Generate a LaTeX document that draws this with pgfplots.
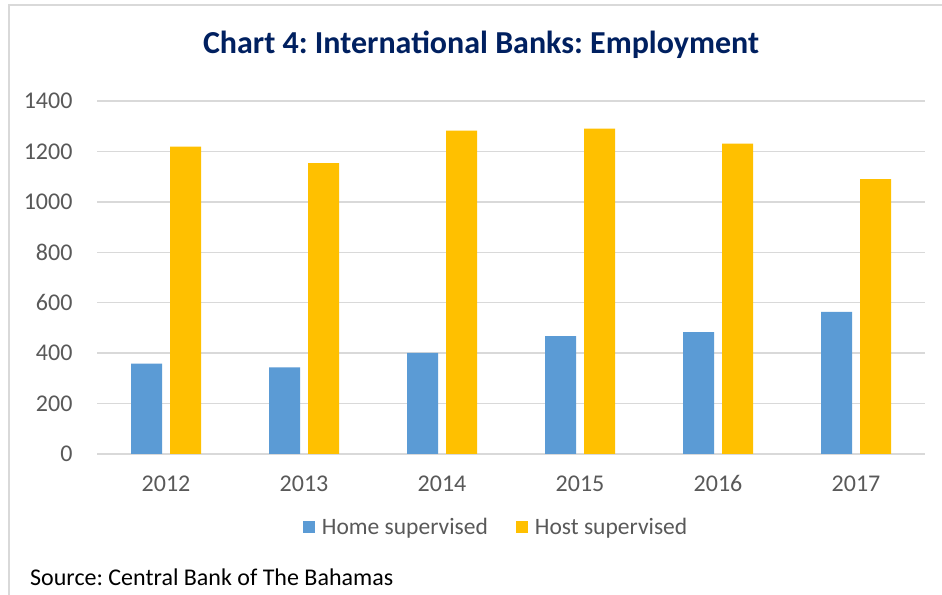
\documentclass[border=0pt]{standalone}
\usepackage{pgfplots}
\pgfplotsset{compat=1.18}
\usepackage{fontspec}
\setmainfont{Carlito}
\frenchspacing

\definecolor{HomeBlue}{RGB}{91,155,213}
\definecolor{HostGold}{RGB}{255,192,0}
\definecolor{GridGray}{RGB}{217,217,217}
\definecolor{LabelGray}{RGB}{89,89,89}
\definecolor{TitleNavy}{RGB}{0,32,96}

\begin{document}
\begin{tikzpicture}
\useasboundingbox (0,0) rectangle (942bp,595bp);
\fill[white] (0,0) rectangle (942bp,595bp);
\draw[GridGray, line width=1.2bp] (9bp,0) -- (9bp,590bp) -- (942bp,590bp);

\begin{axis}[
    at={(97bp,141bp)}, anchor=south west,
    scale only axis,
    width=828bp, height=353bp,
    xmin=-0.5, xmax=5.5,
    ymin=0, ymax=1400,
    xtick={0,1,2,3,4,5},
    xticklabels={2012,2013,2014,2015,2016,2017},
    ytick={0,200,...,1400},
    ymajorgrids,
    major grid style={GridGray, line width=1.3bp},
    axis line style={draw=none},
    major tick length=0pt,
    tick label style={font=\fontsize{24bp}{28bp}\selectfont, text=LabelGray},
    /pgf/number format/assume math mode=true,
    /pgf/number format/1000 sep={},
    yticklabel style={anchor=east, xshift=-21bp},
    xticklabel style={anchor=base, yshift=-38bp},
    ybar=8bp, bar width=31bp,
    legend columns=2,
    legend style={at={(0.482,-0.207)}, anchor=center, draw=none, fill=none,
        font=\fontsize{23.5bp}{28bp}\selectfont, text=LabelGray,
        /tikz/every odd column/.append style={column sep=5bp},
        /tikz/every even column/.append style={column sep=26bp},
        inner sep=0pt},
    legend image code/.code={\fill[#1, draw=none] (0bp,-6bp) rectangle (12bp,6bp);},
]
\addplot[fill=HomeBlue, draw=none] coordinates {
    (0,358) (1,344) (2,401) (3,467) (4,483) (5,564)
};
\addplot[fill=HostGold, draw=none] coordinates {
    (0,1219) (1,1154) (2,1282) (3,1290) (4,1231) (5,1090)
};
\legend{Home supervised, Host supervised}
\end{axis}

\node[font=\bfseries\fontsize{32bp}{36bp}\selectfont, text=TitleNavy, anchor=base] at (481bp,541bp)
    {Chart 4: International Banks: Employment};
\node[font=\fontsize{24bp}{28bp}\selectfont, anchor=base west, inner sep=0pt] at (30bp,10bp)
    {Source: Central Bank of The Bahamas};
\end{tikzpicture}
\end{document}
